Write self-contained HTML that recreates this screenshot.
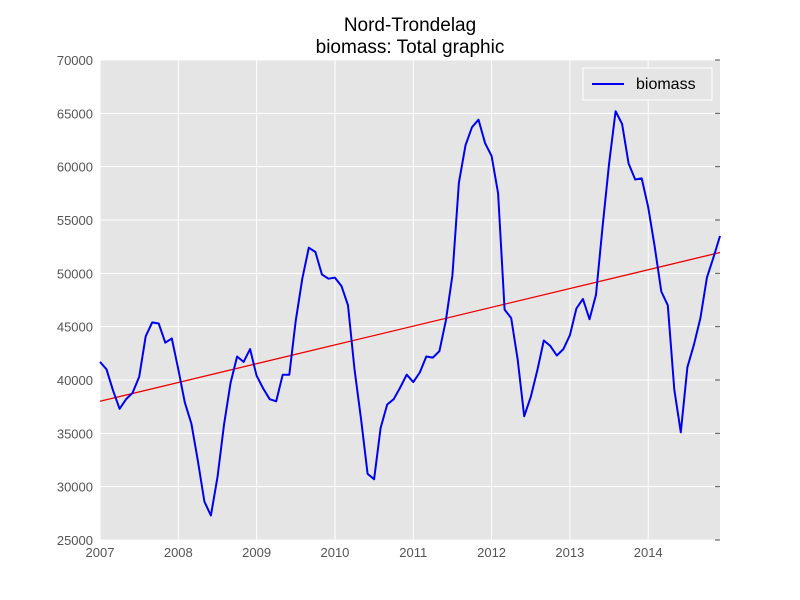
<!DOCTYPE html>
<html><head><meta charset="utf-8"><style>
body{margin:0;background:#fff;}
svg{display:block;font-family:"Liberation Sans",sans-serif;}
</style></head><body>
<svg id="chart" width="800" height="600">
<text x="410" y="31" text-anchor="middle" font-size="19">Nord-Trondelag</text>
<text x="410" y="53" text-anchor="middle" font-size="19">biomass: Total graphic</text>
<rect x="100" y="60" width="620" height="480" fill="#e5e5e5"/>
<g id="grid"></g><g id="axes"></g><g id="series"></g>
<g>
<rect x="583" y="68" width="129" height="32" fill="#e5e5e5" stroke="#fff" stroke-width="1"/>
<line x1="592" y1="84" x2="624" y2="84" stroke="#0000ee" stroke-width="2"/>
<text x="636" y="89" font-size="16" fill="#000">biomass</text>
</g>
</svg>
<script>
const years = [2007,2008,2009,2010,2011,2012,2013,2014];
const yTicks = [25000,30000,35000,40000,45000,50000,55000,60000,65000,70000];
const biomass = [
41700,41000,39000,37300,38200,38800,40300,44100,45400,45300,43500,43900,
41000,37900,35900,32400,28600,27300,30900,35800,39700,42200,41700,42900,
40400,39200,38200,38000,40500,40500,45600,49500,52400,52000,49900,49500,
49600,48800,47000,41000,36300,31200,30700,35500,37700,38200,39300,40500,
39800,40700,42200,42100,42700,45600,49800,58500,62000,63700,64400,62200,
61000,57500,46600,45800,41900,36600,38400,40900,43700,43200,42300,42900,
44200,46700,47600,45700,48000,54300,60300,65200,64000,60300,58800,58900,
56200,52500,48300,47000,39100,35100,41200,43300,45800,49600,51500,53500];
const X0=100,X1=720,Y0=540,Y1=60,tMin=2007,tMax=2007+95/12,vMin=25000,vMax=70000;
const xs=t=>X0+(t-tMin)/(tMax-tMin)*(X1-X0);
const ys=v=>Y0-(v-vMin)/(vMax-vMin)*(Y0-Y1);
const NS="http://www.w3.org/2000/svg";
function mk(tag,attrs,parent){const e=document.createElementNS(NS,tag);for(const k in attrs)e.setAttribute(k,attrs[k]);parent.appendChild(e);return e;}
const grid=document.getElementById('grid'),axes=document.getElementById('axes'),series=document.getElementById('series');
years.forEach(y=>{const x=xs(y);
 const g=mk('line',{x1:x,x2:x,y1:Y1,y2:Y0,stroke:'#fff','stroke-width':1},grid);
 
 
 const t=mk('text',{x:x,y:Y0+17,'text-anchor':'middle','font-size':13,fill:'#555'},axes);
 t.textContent=y;
 
 
});
yTicks.forEach(v=>{const y=ys(v);
 const g=mk('line',{x1:X0,x2:X1,y1:y,y2:y,stroke:'#fff','stroke-width':1},grid);
 
 
 const tk=mk('line',{x1:X1-5,x2:X1,y1:y,y2:y,stroke:'#555','stroke-width':1},axes);
 
 
 const t=mk('text',{x:X0-7,y:y+5,'text-anchor':'end','font-size':13,fill:'#555'},axes);
 t.textContent=v;
 
 
});
const n=biomass.length;const tt=biomass.map((v,i)=>tMin+i/12);
const pts=biomass.map((v,i)=>xs(tt[i]).toFixed(1)+','+ys(v).toFixed(1)).join(' ');
// linear regression trend
let mx=0,my=0;tt.forEach((t,i)=>{mx+=t;my+=biomass[i];});mx/=n;my/=n;
let sxy=0,sxx=0;tt.forEach((t,i)=>{sxy+=(t-mx)*(biomass[i]-my);sxx+=(t-mx)*(t-mx);});
const b=sxy/sxx,a=my-b*mx;
const tr=mk('line',{x1:xs(tt[0]),y1:ys(a+b*tt[0]),x2:xs(tt[n-1]),y2:ys(a+b*tt[n-1]),stroke:'#ee0000','stroke-width':1.3},series);


const pl=mk('polyline',{points:pts,fill:'none',stroke:'#0000ee','stroke-width':2,'stroke-linejoin':'round'},series);


</script>
</body></html>
